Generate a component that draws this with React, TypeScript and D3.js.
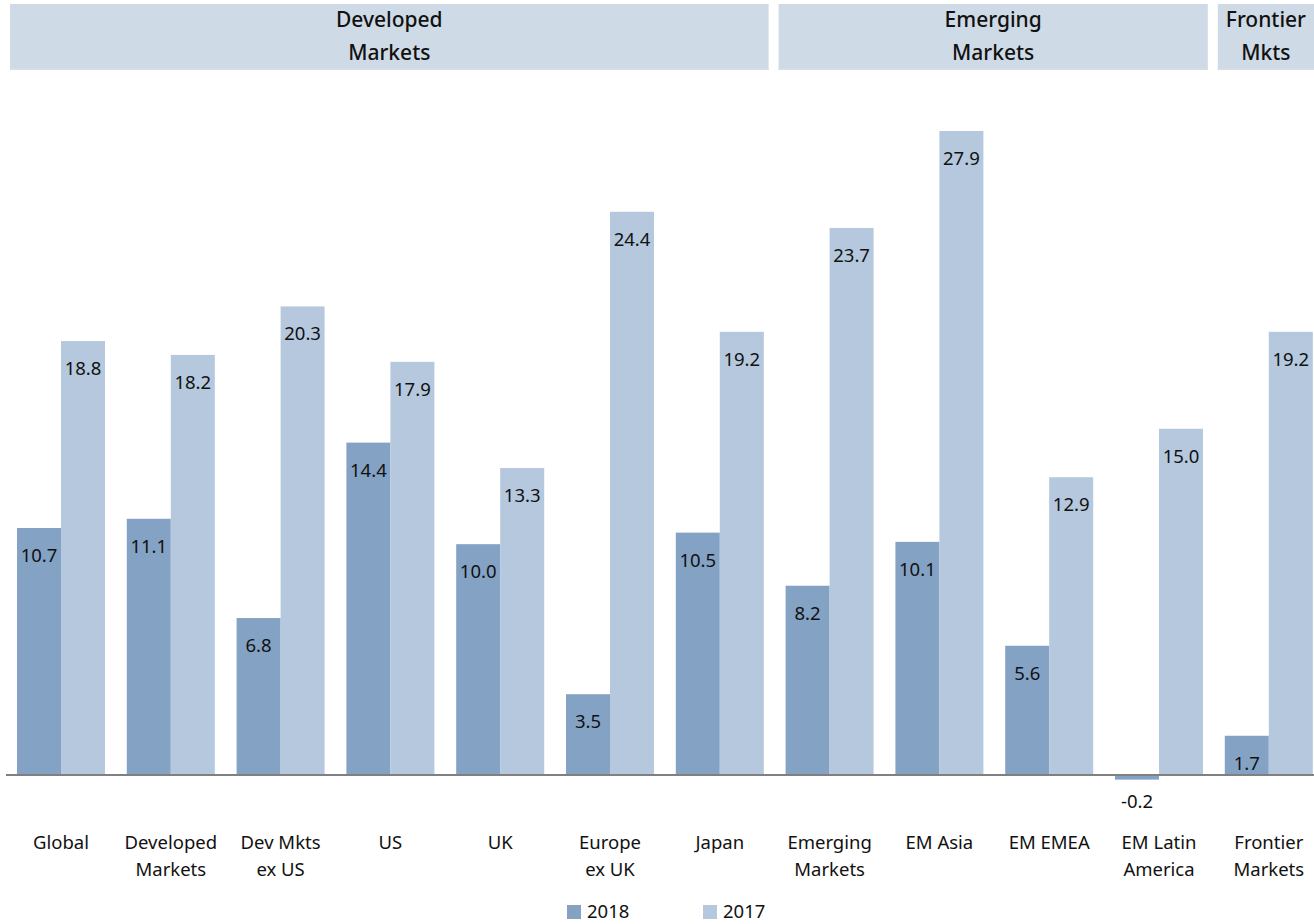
import React from "react";
import * as d3 from "d3";

const categories = [
  "Global|",
  "Developed|Markets",
  "Dev Mkts|ex US",
  "US|",
  "UK|",
  "Europe|ex UK",
  "Japan|",
  "Emerging|Markets",
  "EM Asia|",
  "EM EMEA|",
  "EM Latin|America",
  "Frontier|Markets",
];
const values2018 = [10.7, 11.1, 6.8, 14.4, 10.0, 3.5, 10.5, 8.2, 10.1, 5.6, -0.2, 1.7];
const values2017 = [18.8, 18.2, 20.3, 17.9, 13.3, 24.4, 19.2, 23.7, 27.9, 12.9, 15.0, 19.2];
const groups = [
  { label: ["Developed", "Markets"], from: 0, to: 6 },
  { label: ["Emerging", "Markets"], from: 7, to: 10 },
  { label: ["Frontier", "Mkts"], from: 11, to: 11 },
];
const seriesNames = ["2018", "2017"];

const W = 1314;
const H = 924;
const C18 = "#84a2c4";
const C17 = "#b5c8dd";
const FONT = "'Noto Sans', 'Open Sans', sans-serif";

export default function App() {
  const x = d3
    .scaleBand<number>()
    .domain(d3.range(categories.length))
    .range([7, 7 + 12 * 109.8])
    .paddingInner(0)
    .paddingOuter(0);
  const step = x.step();
  const barW = 44;
  const y = d3.scaleLinear().domain([0, 27.9]).range([775, 131]);

  const bars: React.ReactNode[] = [];
  categories.forEach((c, i) => {
    const x0 = (x(i) as number) + 10;
    [values2018[i], values2017[i]].forEach((v, s) => {
      const bx = x0 + s * barW;
      const top = Math.min(y(v), y(0));
      const h = Math.abs(y(v) - y(0));
      bars.push(
        <rect key={`b${i}-${s}`} x={bx} y={top} width={barW} height={h} fill={s === 0 ? C18 : C17} />
      );
      const ly = v >= 0 ? y(v) + 34 : y(0) + 33;
      bars.push(
        <text key={`t${i}-${s}`} x={bx + barW / 2} y={ly} textAnchor="middle" fontSize={18.5} fill="#111">
          {v.toFixed(1)}
        </text>
      );
    });
    const lines = c.split("|").filter((l) => l.length);
    lines.forEach((l, k) => {
      bars.push(
        <text key={`c${i}-${k}`} x={x0 + barW} y={849 + k * 27} textAnchor="middle" fontSize={18.5} fill="#111">
          {l}
        </text>
      );
    });
  });

  return (
    <svg width={W} height={H} style={{ position: "absolute", left: 0, top: 0, fontFamily: FONT }}>
      {groups.map((g, i) => {
        const gx0 = (x(g.from) as number) + 3;
        const gx1 = Math.min((x(g.to) as number) + step - 7, W);
        const cx = g.to === 11 ? (gx0 + W) / 2 : (gx0 + gx1) / 2;
        return (
          <g key={`g${i}`}>
            <rect x={gx0} y={4} width={gx1 - gx0} height={66} fill="#cfdae7" />
            <rect x={gx0} y={68} width={gx1 - gx0} height={2} fill="#d8dde4" />
            {g.label.map((l, k) => (
              <text
                key={k}
                x={cx}
                y={27 + k * 33}
                textAnchor="middle"
                fontSize={21}
                fontWeight={500}
                fill="#111"
              >
                {l}
              </text>
            ))}
          </g>
        );
      })}
      {bars}
      <line x1={6} x2={W} y1={y(0)} y2={y(0)} stroke="#808080" strokeWidth={2} />
      {seriesNames.map((s, i) => {
        const lx = 567 + i * 136;
        return (
          <g key={`l${i}`}>
            <rect x={lx} y={905} width={14} height={14} fill={i === 0 ? C18 : C17} />
            <text x={lx + 20} y={918} fontSize={18.5} fill="#111">
              {s}
            </text>
          </g>
        );
      })}
    </svg>
  );
}
